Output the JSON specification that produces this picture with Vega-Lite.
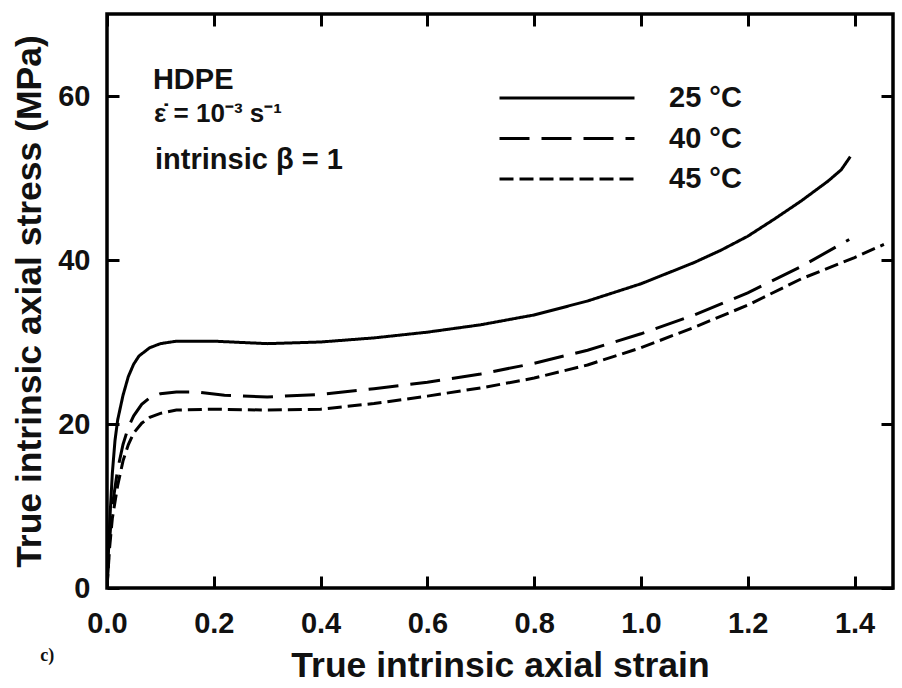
{
  "$schema": "https://vega.github.io/schema/vega-lite/v6.json",
  "width": 786,
  "height": 574,
  "autosize": {"type": "none"},
  "padding": {"left": 107, "top": 14, "right": 9, "bottom": 100},
  "background": "white",
  "config": {
    "view": {"stroke": "#000", "strokeWidth": 3.5},
    "font": "Liberation Sans",
    "axis": {
      "domain": false,
      "grid": false,
      "tickColor": "#000",
      "tickWidth": 3,
      "tickSize": -12,
      "labelFont": "Liberation Sans",
      "labelFontWeight": "bold",
      "labelFontSize": 29,
      "labelColor": "#111",
      "titleFont": "Liberation Sans",
      "titleFontWeight": "bold",
      "titleFontSize": 35.5,
      "titleColor": "#111"
    },
    "legend": {
      "orient": "none",
      "legendX": 391,
      "legendY": 67,
      "padding": 0,
      "symbolType": "stroke",
      "symbolSize": 18225,
      "symbolStrokeWidth": 3,
      "symbolStrokeColor": "#000",
      "labelFont": "Liberation Sans",
      "labelFontWeight": "bold",
      "labelFontSize": 29,
      "labelColor": "#111",
      "labelOffset": 33,
      "clipHeight": 34,
      "rowPadding": 6.5
    }
  },
  "datasets": {
    "curves": [
      {"series": "25 °C", "strain": 0, "stress": 0},
      {"series": "25 °C", "strain": 0.005, "stress": 8},
      {"series": "25 °C", "strain": 0.01, "stress": 14},
      {"series": "25 °C", "strain": 0.015, "stress": 18},
      {"series": "25 °C", "strain": 0.02, "stress": 20.5},
      {"series": "25 °C", "strain": 0.03, "stress": 23.5},
      {"series": "25 °C", "strain": 0.04, "stress": 25.8},
      {"series": "25 °C", "strain": 0.05, "stress": 27.3},
      {"series": "25 °C", "strain": 0.06, "stress": 28.3},
      {"series": "25 °C", "strain": 0.08, "stress": 29.3},
      {"series": "25 °C", "strain": 0.1, "stress": 29.8},
      {"series": "25 °C", "strain": 0.13, "stress": 30.1},
      {"series": "25 °C", "strain": 0.2, "stress": 30.1},
      {"series": "25 °C", "strain": 0.3, "stress": 29.8},
      {"series": "25 °C", "strain": 0.4, "stress": 30.0},
      {"series": "25 °C", "strain": 0.5, "stress": 30.5},
      {"series": "25 °C", "strain": 0.6, "stress": 31.2},
      {"series": "25 °C", "strain": 0.7, "stress": 32.1},
      {"series": "25 °C", "strain": 0.8, "stress": 33.3},
      {"series": "25 °C", "strain": 0.9, "stress": 35.0},
      {"series": "25 °C", "strain": 1.0, "stress": 37.1},
      {"series": "25 °C", "strain": 1.05, "stress": 38.4},
      {"series": "25 °C", "strain": 1.1, "stress": 39.7},
      {"series": "25 °C", "strain": 1.15, "stress": 41.2},
      {"series": "25 °C", "strain": 1.2, "stress": 42.9},
      {"series": "25 °C", "strain": 1.25, "stress": 45.0},
      {"series": "25 °C", "strain": 1.3, "stress": 47.2},
      {"series": "25 °C", "strain": 1.35, "stress": 49.6},
      {"series": "25 °C", "strain": 1.375, "stress": 51.0},
      {"series": "25 °C", "strain": 1.392, "stress": 52.6},
      {"series": "40 °C", "strain": 0, "stress": 0},
      {"series": "40 °C", "strain": 0.005, "stress": 6},
      {"series": "40 °C", "strain": 0.01, "stress": 10},
      {"series": "40 °C", "strain": 0.02, "stress": 14.5},
      {"series": "40 °C", "strain": 0.03, "stress": 17.5},
      {"series": "40 °C", "strain": 0.04, "stress": 19.6},
      {"series": "40 °C", "strain": 0.05, "stress": 21},
      {"series": "40 °C", "strain": 0.065, "stress": 22.4},
      {"series": "40 °C", "strain": 0.08, "stress": 23.2},
      {"series": "40 °C", "strain": 0.1, "stress": 23.7},
      {"series": "40 °C", "strain": 0.13, "stress": 23.9},
      {"series": "40 °C", "strain": 0.17, "stress": 23.9},
      {"series": "40 °C", "strain": 0.22, "stress": 23.5},
      {"series": "40 °C", "strain": 0.3, "stress": 23.3},
      {"series": "40 °C", "strain": 0.4, "stress": 23.6},
      {"series": "40 °C", "strain": 0.5, "stress": 24.3},
      {"series": "40 °C", "strain": 0.6, "stress": 25.1},
      {"series": "40 °C", "strain": 0.7, "stress": 26.1},
      {"series": "40 °C", "strain": 0.8, "stress": 27.4},
      {"series": "40 °C", "strain": 0.9, "stress": 29.0},
      {"series": "40 °C", "strain": 1.0, "stress": 31.0},
      {"series": "40 °C", "strain": 1.1, "stress": 33.3},
      {"series": "40 °C", "strain": 1.2, "stress": 36.0},
      {"series": "40 °C", "strain": 1.3, "stress": 39.2},
      {"series": "40 °C", "strain": 1.39, "stress": 42.5},
      {"series": "45 °C", "strain": 0, "stress": 0},
      {"series": "45 °C", "strain": 0.005, "stress": 5},
      {"series": "45 °C", "strain": 0.01, "stress": 8.5},
      {"series": "45 °C", "strain": 0.02, "stress": 12.5},
      {"series": "45 °C", "strain": 0.03, "stress": 15.5},
      {"series": "45 °C", "strain": 0.04, "stress": 17.5},
      {"series": "45 °C", "strain": 0.05, "stress": 18.9},
      {"series": "45 °C", "strain": 0.065, "stress": 20.1},
      {"series": "45 °C", "strain": 0.08, "stress": 20.8},
      {"series": "45 °C", "strain": 0.1, "stress": 21.3},
      {"series": "45 °C", "strain": 0.13, "stress": 21.7},
      {"series": "45 °C", "strain": 0.2, "stress": 21.8},
      {"series": "45 °C", "strain": 0.3, "stress": 21.7},
      {"series": "45 °C", "strain": 0.4, "stress": 21.8},
      {"series": "45 °C", "strain": 0.5, "stress": 22.5},
      {"series": "45 °C", "strain": 0.6, "stress": 23.4},
      {"series": "45 °C", "strain": 0.7, "stress": 24.4},
      {"series": "45 °C", "strain": 0.8, "stress": 25.6},
      {"series": "45 °C", "strain": 0.9, "stress": 27.2},
      {"series": "45 °C", "strain": 1.0, "stress": 29.3},
      {"series": "45 °C", "strain": 1.1, "stress": 31.8},
      {"series": "45 °C", "strain": 1.2, "stress": 34.5},
      {"series": "45 °C", "strain": 1.3, "stress": 37.7},
      {"series": "45 °C", "strain": 1.4, "stress": 40.3},
      {"series": "45 °C", "strain": 1.455, "stress": 41.9}
    ],
    "notesBig": [
      {"label": "HDPE", "x": 0.086, "y": 62},
      {"label": "intrinsic β = 1", "x": 0.09, "y": 52.2}
    ],
    "notesSmall": [
      {"label": "ε̇ = 10⁻³ s⁻¹", "x": 0.088, "y": 57.8}
    ],
    "panel": [
      {"label": "c)", "x": -0.125, "y": -8.3}
    ]
  },
  "layer": [
    {
      "data": {"name": "curves"},
      "mark": {"type": "line", "color": "#000", "strokeWidth": 3, "clip": true},
      "encoding": {
        "x": {
          "field": "strain", "type": "quantitative",
          "scale": {"domain": [0, 1.472], "nice": false, "zero": false},
          "axis": {"orient": "bottom", "values": [0, 0.2, 0.4, 0.6, 0.8, 1.0, 1.2, 1.4], "format": ".1f", "labelPadding": 33, "labelFlush": false, "title": "True intrinsic axial strain", "titlePadding": 10}
        },
        "y": {
          "field": "stress", "type": "quantitative",
          "scale": {"domain": [0, 70], "nice": false},
          "axis": {"orient": "left", "values": [0, 20, 40, 60], "labelPadding": 29, "labelFlush": false, "title": "True intrinsic axial stress (MPa)", "titlePadding": 10}
        },
        "strokeDash": {
          "field": "series", "type": "nominal",
          "scale": {"domain": ["25 °C", "40 °C", "45 °C"], "range": [[1, 0], [30, 12], [14, 6]]},
          "legend": {"title": null}
        },
        "detail": {"field": "series"}
      }
    },
    {
      "data": {"name": "notesBig"},
      "mark": {"type": "text", "align": "left", "baseline": "middle", "fontSize": 29, "fontWeight": "bold", "font": "Liberation Sans", "color": "#111"},
      "encoding": {
        "x": {"field": "x", "type": "quantitative", "scale": {"domain": [0, 1.472], "nice": false, "zero": false},
          "axis": {"orient": "top", "values": [0, 0.2, 0.4, 0.6, 0.8, 1.0, 1.2, 1.4], "labels": false, "title": null}},
        "y": {"field": "y", "type": "quantitative", "scale": {"domain": [0, 70], "nice": false},
          "axis": {"orient": "right", "values": [0, 20, 40, 60], "labels": false, "title": null}},
        "text": {"field": "label"}
      }
    },
    {
      "data": {"name": "notesSmall"},
      "mark": {"type": "text", "align": "left", "baseline": "middle", "fontSize": 26, "fontWeight": "bold", "font": "Liberation Sans", "color": "#111"},
      "encoding": {
        "x": {"field": "x", "type": "quantitative", "axis": null},
        "y": {"field": "y", "type": "quantitative", "axis": null},
        "text": {"field": "label"}
      }
    },
    {
      "data": {"name": "panel"},
      "mark": {"type": "text", "align": "left", "baseline": "middle", "fontSize": 18, "fontWeight": "bold", "font": "Liberation Serif", "color": "#111"},
      "encoding": {
        "x": {"field": "x", "type": "quantitative", "axis": null},
        "y": {"field": "y", "type": "quantitative", "axis": null},
        "text": {"field": "label"}
      }
    }
  ]
}
